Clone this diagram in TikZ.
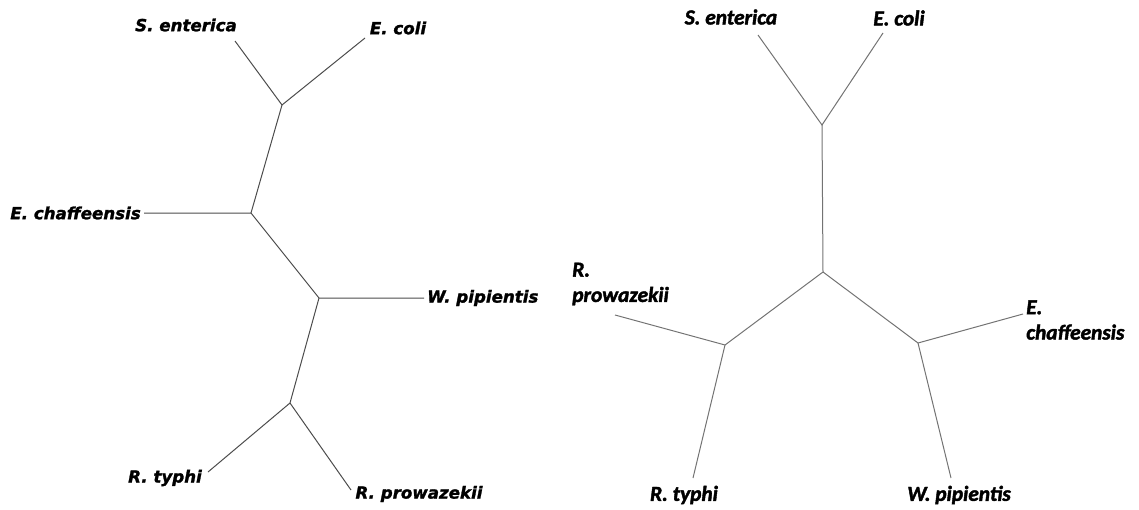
\documentclass[tikz,border=0pt]{standalone}
\usepackage{fontspec}
\usepackage{tikz}

\newfontfamily\leftfont{DejaVu Sans}[BoldItalicFont={DejaVu Sans Bold Oblique}, BoldItalicFeatures={FakeBold=1.5}]
\newfontfamily\rightfont{Carlito}[BoldItalicFont={Carlito Bold Italic}, BoldItalicFeatures={FakeBold=2}]

\tikzset{
  branch/.style={draw=black!70, line width=0.75pt},
  taxonL/.style={inner sep=0pt, font=\leftfont\bfseries\itshape\fontsize{12.5}{15}\selectfont},
  taxonR/.style={inner sep=0pt, align=left, font=\rightfont\bfseries\itshape\fontsize{16}{19}\selectfont}
}

\begin{document}
\begin{tikzpicture}[x=0.75pt, y=-0.75pt]

  % Fix the page size
  \useasboundingbox (0,0) rectangle (1139,510);

  % ---- First tree ----

  % Inner nodes
  \coordinate (a1) at (282,105);
  \coordinate (a2) at (251,213);
  \coordinate (a3) at (319,298);
  \coordinate (a4) at (290,403);

  % Leaf ends
  \coordinate (sent1) at (235,41);
  \coordinate (ecol1) at (365,38);
  \coordinate (echa1) at (144,213);
  \coordinate (wpip1) at (424,298);
  \coordinate (rtyp1) at (208,472);
  \coordinate (rpro1) at (351,490);

  % Labels
  \node[taxonL] (Lsent1) at (186,25) {S. enterica};
  \node[taxonL] (Lecol1) at (398,28) {E. coli};
  \node[taxonL, anchor=east] (Lecha1) at (141,213) {E. chaffeensis};
  \node[taxonL, anchor=west] (Lwpip1) at (427,298) {W. pipientis};
  \node[taxonL] (Lrtyp1) at (165,478) {R. typhi};
  \node[taxonL] (Lrpro1) at (419,494) {R. prowazekii};

  % Branches
  \draw[branch] (sent1) -- (a1) -- (ecol1);
  \draw[branch] (a1) -- (a2) -- (echa1);
  \draw[branch] (a2) -- (a3) -- (wpip1);
  \draw[branch] (a3) -- (a4) -- (rtyp1);
  \draw[branch] (a4) -- (rpro1);

  % ---- Second tree ----

  % Inner nodes
  \coordinate (b1) at (822,125);
  \coordinate (b2) at (823,272);
  \coordinate (b3) at (725,345);
  \coordinate (b4) at (918,343);

  % Leaf ends
  \coordinate (sent2) at (758,35);
  \coordinate (ecol2) at (883,33);
  \coordinate (rpro2) at (615,315);
  \coordinate (rtyp2) at (693,478);
  \coordinate (echa2) at (1023,314);
  \coordinate (wpip2) at (951,478);

  % Labels
  \node[taxonR] (Lsent2) at (731,17) {S. enterica};
  \node[taxonR] (Lecol2) at (899,18) {E. coli};
  \node[taxonR, anchor=west] (Lrpro2) at (572,284) {R.\\prowazekii};
  \node[taxonR] (Lrtyp2) at (684,495) {R. typhi};
  \node[taxonR, anchor=west] (Lecha2) at (1026,320) {E.\\chaffeensis};
  \node[taxonR] (Lwpip2) at (959,495) {W. pipientis};

  % Branches
  \draw[branch, draw=black!55] (sent2) -- (b1) -- (ecol2);
  \draw[branch, draw=black!55] (b1) -- (b2);
  \draw[branch, draw=black!55] (b2) -- (b3) -- (rpro2);
  \draw[branch, draw=black!55] (b3) -- (rtyp2);
  \draw[branch, draw=black!55] (b2) -- (b4) -- (echa2);
  \draw[branch, draw=black!55] (b4) -- (wpip2);

\end{tikzpicture}
\end{document}
